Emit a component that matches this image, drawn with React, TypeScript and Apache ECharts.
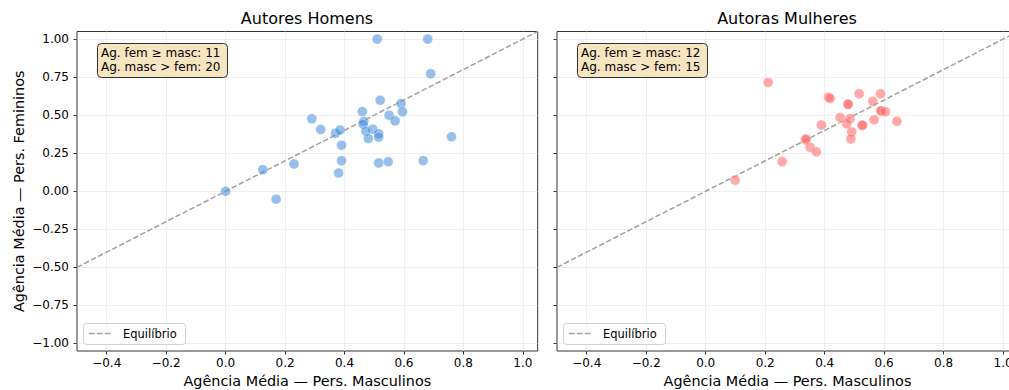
import React, { useEffect, useRef } from "react";
import * as echarts from "echarts";

// ---- Data ----
const homensMasc = [0.51, 0.68, 0.69, 0.52, 0.59, 0.595, 0.46, 0.55, 0.57, 0.465, 0.463, 0.29, 0.32, 0.37, 0.385, 0.495, 0.472, 0.515, 0.515, 0.48, 0.76, 0.39, 0.39, 0.38, 0.515, 0.547, 0.665, 0.23, 0.125, 0.0, 0.17];
const homensFem = [1.0, 1.0, 0.773, 0.598, 0.576, 0.522, 0.524, 0.5, 0.463, 0.459, 0.441, 0.476, 0.406, 0.382, 0.402, 0.408, 0.395, 0.378, 0.356, 0.347, 0.358, 0.303, 0.201, 0.12, 0.186, 0.194, 0.201, 0.179, 0.142, 0.0, -0.052];

const mulheresMasc = [0.21, 0.413, 0.418, 0.516, 0.588, 0.478, 0.479, 0.562, 0.589, 0.59, 0.604, 0.452, 0.485, 0.474, 0.526, 0.527, 0.566, 0.643, 0.389, 0.491, 0.488, 0.335, 0.338, 0.351, 0.372, 0.257, 0.099];
const mulheresFem = [0.715, 0.619, 0.61, 0.641, 0.641, 0.571, 0.573, 0.591, 0.527, 0.529, 0.523, 0.484, 0.477, 0.444, 0.433, 0.434, 0.47, 0.46, 0.436, 0.39, 0.344, 0.338, 0.344, 0.289, 0.259, 0.195, 0.073];

const panelTitles = ["Autores Homens", "Autoras Mulheres"];
const xTicks = [-0.4, -0.2, 0.0, 0.2, 0.4, 0.6, 0.8, 1.0];
const yTicks = [-1.0, -0.75, -0.5, -0.25, 0.0, 0.25, 0.5, 0.75, 1.0];
const xRange = [-0.5, 1.05];
const yRange = [-1.05, 1.05];
const diagonal = [[-0.5, -0.5], [1.05, 1.05]];
const xLabel = "Agência Média — Pers. Masculinos";
const yLabel = "Agência Média — Pers. Femininos";
const legendLabel = "Equilíbrio";

const FONT = "DejaVu Sans";

function fmt(v: number, d: number) {
  const s = Math.abs(v).toFixed(d);
  return v < 0 ? "\u2212" + s : s;
}

function counts(mx: number[], fy: number[]) {
  let fem = 0;
  let masc = 0;
  mx.forEach((x, i) => {
    if (fy[i] >= x) fem++;
    else masc++;
  });
  return [fem, masc];
}

export default function App() {
  const ref = useRef<HTMLDivElement>(null);
  useEffect(() => {
    if (!ref.current) return;
    const chart = echarts.init(ref.current, undefined, { renderer: "svg" });
    const grids = [
      { left: 77, width: 460.7, top: 31.5, height: 319.5 },
      { left: 557, width: 461, top: 31.5, height: 319.5 },
    ];
    const xAxes = grids.map((_, i) => ({
      type: "value",
      gridIndex: i,
      min: xRange[0],
      max: xRange[1],
      name: xLabel,
      nameLocation: "middle",
      nameGap: 21,
      nameTextStyle: { fontFamily: FONT, fontSize: 14.4, color: "#000" },
      axisLine: { show: false, onZero: false },
      axisTick: { show: true, length: 3.5, customValues: xTicks, lineStyle: { color: "#333", width: 1 } },
      axisLabel: {
        customValues: xTicks,
        margin: 6,
        hideOverlap: false,
        fontFamily: FONT,
        fontSize: 12,
        color: "#000",
        formatter: (v: number) => fmt(v, 1),
      },
      splitLine: { show: true, lineStyle: { color: "#ebebeb", width: 0.8 } },
    }));
    const yAxes = grids.map((_, i) => ({
      type: "value",
      gridIndex: i,
      min: yRange[0],
      max: yRange[1],
      name: i === 0 ? yLabel : "",
      nameLocation: "middle",
      nameGap: 51,
      nameTextStyle: { fontFamily: FONT, fontSize: 14.4, color: "#000" },
      axisLine: { show: false, onZero: false },
      axisTick: { show: true, length: 3.5, customValues: yTicks, lineStyle: { color: "#333", width: 1 } },
      axisLabel: {
        show: i === 0,
        customValues: yTicks,
        margin: 8,
        fontFamily: FONT,
        fontSize: 12,
        color: "#000",
        formatter: (v: number) => fmt(v, 2),
      },
      splitLine: { show: true, lineStyle: { color: "#ebebeb", width: 0.8 } },
    }));

    const panels = [
      { mx: homensMasc, fy: homensFem, color: "#4a90d9" },
      { mx: mulheresMasc, fy: mulheresFem, color: "#ff6b6b" },
    ];
    const series: any[] = [];
    panels.forEach((p, i) => {
      series.push({
        type: "line",
        name: legendLabel,
        xAxisIndex: i,
        yAxisIndex: i,
        data: diagonal,
        symbol: "none",
        silent: true,
        lineStyle: { color: "#a0a0a0", width: 1.5, type: [5.5, 2.4] },
        z: 2,
      });
      series.push({
        type: "scatter",
        xAxisIndex: i,
        yAxisIndex: i,
        data: p.mx.map((x, k) => [x, p.fy[k]]),
        symbolSize: 10,
        itemStyle: { color: p.color, opacity: 0.58, borderColor: "#fff", borderWidth: 0.6 },
        z: 3,
      });
    });

    const boxLefts = [97, 577];
    const graphics: any[] = [];
    panels.forEach((p, i) => {
      const [fem, masc] = counts(p.mx, p.fy);
      const bx = boxLefts[i];
      graphics.push({
        type: "rect",
        left: bx,
        top: 43,
        shape: { width: 130, height: 34, r: 4 },
        style: { fill: "#f7e5c2", stroke: "#333", lineWidth: 1 },
        z: 10,
      });
      graphics.push({
        type: "text",
        x: bx + 4,
        y: 60,
        style: {
          text: `Ag. fem \u2265 masc: ${fem}\nAg. masc > fem: ${masc}`,
          fontFamily: FONT,
          fontSize: 12,
          lineHeight: 14.5,
          fill: "#000",
          verticalAlign: "middle",
          align: "left",
        },
        z: 11,
      });
      const lx = i === 0 ? 83 : 563;
      graphics.push({
        type: "rect",
        left: lx,
        top: 323,
        shape: { width: 102, height: 21, r: 3 },
        style: { fill: "rgba(255,255,255,0.8)", stroke: "#d0d0d0", lineWidth: 1 },
        z: 10,
      });
      graphics.push({
        type: "line",
        shape: { x1: lx + 6, y1: 333.5, x2: lx + 29, y2: 333.5 },
        style: { stroke: "#a0a0a0", lineWidth: 1.5, lineDash: [5.5, 2.4] },
        z: 11,
      });
      graphics.push({
        type: "text",
        x: lx + 40,
        y: 333.5,
        style: {
          text: legendLabel,
          fontFamily: FONT,
          fontSize: 11.5,
          fill: "#000",
          verticalAlign: "middle",
          align: "left",
        },
        z: 11,
      });
    });

    chart.setOption({
      animation: false,
      backgroundColor: "#fff",
      title: [
        { text: panelTitles[0], left: 307, top: 10, textAlign: "center", padding: 0, textStyle: { fontFamily: FONT, fontSize: 16, fontWeight: "normal", color: "#000" } },
        { text: panelTitles[1], left: 787, top: 10, textAlign: "center", padding: 0, textStyle: { fontFamily: FONT, fontSize: 16, fontWeight: "normal", color: "#000" } },
      ],
      grid: grids.map((g) => ({
        ...g,
        show: true,
        borderColor: "#333",
        borderWidth: 1,
        backgroundColor: "transparent",
        containLabel: false,
        outerBoundsMode: "none",
      })),
      xAxis: xAxes,
      yAxis: yAxes,
      series,
      graphic: graphics,
    });
    return () => chart.dispose();
  }, []);
  return (
    <div
      ref={ref}
      style={{ position: "fixed", left: 0, top: 0, width: 1009, height: 390, overflow: "hidden" }}
    />
  );
}
